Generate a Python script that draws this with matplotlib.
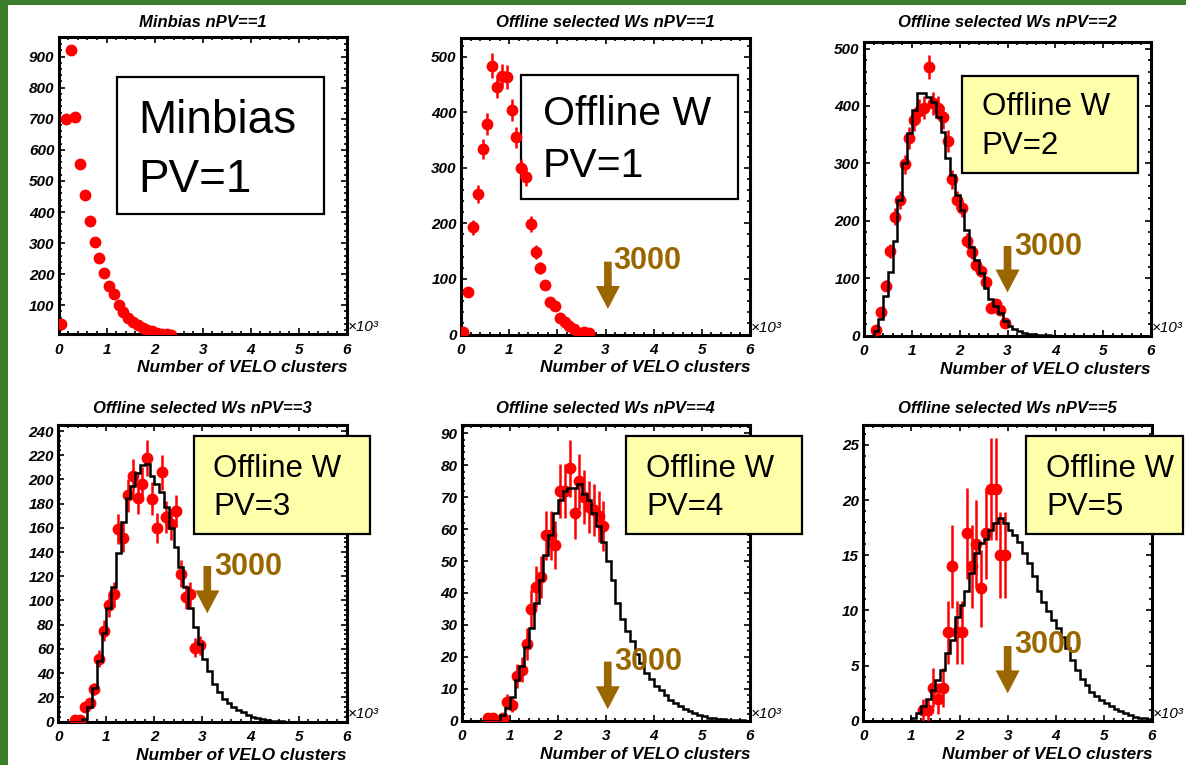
import numpy as np
import matplotlib
matplotlib.use('Agg')
import matplotlib.pyplot as plt
from matplotlib.patches import Rectangle
from matplotlib.ticker import MultipleLocator

plt.rcParams['font.family'] = ['Liberation Sans', 'DejaVu Sans']
plt.rcParams['font.weight'] = 'bold'
plt.rcParams['font.style'] = 'italic'

W, H = 1186, 765

# histogram bin edges, VELO clusters in units of 10^3
edges = np.round(np.arange(0, 6.01, 0.1), 2)

titles = ['Minbias nPV==1', 'Offline selected Ws nPV==1', 'Offline selected Ws nPV==2',
          'Offline selected Ws nPV==3', 'Offline selected Ws nPV==4', 'Offline selected Ws nPV==5']
box_lines = [['Minbias', 'PV=1'], ['Offline W', 'PV=1'], ['Offline W', 'PV=2'],
             ['Offline W', 'PV=3'], ['Offline W', 'PV=4'], ['Offline W', 'PV=5']]
cut_label = '3000'

# data points (red)
minbias_x = [0.05, 0.15, 0.25, 0.35, 0.45, 0.55, 0.65, 0.75, 0.85, 0.95, 1.05, 1.15,
             1.25, 1.35, 1.45, 1.55, 1.65, 1.75, 1.85, 1.95, 2.05, 2.15, 2.25, 2.35]
minbias_y = [40, 700, 920, 705, 555, 455, 372, 305, 253, 205, 163, 135,
             100, 78, 58, 45, 35, 27, 21, 16, 12, 9, 6, 4]

pv1_x = [0.05, 0.15, 0.25, 0.35, 0.45, 0.55, 0.65, 0.75, 0.85, 0.95, 1.05, 1.15, 1.25, 1.35,
         1.45, 1.55, 1.65, 1.75, 1.85, 1.95, 2.05, 2.15, 2.25, 2.35, 2.45, 2.55, 2.65]
pv1_y = [5, 77, 193, 253, 334, 379, 484, 446, 465, 463, 404, 355, 299, 284,
         199, 148, 119, 89, 59, 51, 30, 22, 15, 9, 3, 5, 3]

pv2_x = [0.25, 0.35, 0.45, 0.55, 0.65, 0.75, 0.85, 0.95, 1.05, 1.15, 1.25, 1.35, 1.45, 1.55,
         1.65, 1.75, 1.85, 1.95, 2.05, 2.15, 2.25, 2.35, 2.45, 2.55, 2.65, 2.75, 2.85, 2.95]
pv2_y = [10, 41, 87, 147, 207, 236, 298, 344, 375, 392, 397, 468, 405, 397,
         380, 339, 272, 236, 222, 165, 145, 123, 113, 94, 48, 55, 45, 21]

pv3_x = [0.35, 0.45, 0.55, 0.65, 0.75, 0.85, 0.95, 1.05, 1.15, 1.25, 1.35, 1.45, 1.55, 1.65,
         1.75, 1.85, 1.95, 2.05, 2.15, 2.25, 2.35, 2.45, 2.55, 2.65, 2.75, 2.85, 2.95]
pv3_y = [1, 1, 12, 15, 27, 52, 75, 96, 105, 159, 152, 187, 203, 185,
         196, 218, 184, 160, 206, 169, 163, 174, 122, 103, 105, 61, 63]

pv4_x = [0.55, 0.65, 0.85, 0.95, 1.05, 1.15, 1.25, 1.35, 1.45, 1.55, 1.65, 1.75,
         1.85, 1.95, 2.05, 2.15, 2.25, 2.35, 2.45, 2.55, 2.65, 2.75, 2.85, 2.95]
pv4_y = [1, 1, 1, 6, 5, 14, 16, 24, 35, 42, 45, 58,
         58, 55, 72, 72, 79, 65, 75, 70, 67, 66, 64, 61]

pv5_x = [1.25, 1.35, 1.45, 1.55, 1.65, 1.75, 1.85, 1.95, 2.05, 2.15, 2.25, 2.35,
         2.45, 2.55, 2.65, 2.75, 2.85, 2.95]
pv5_y = [1, 1, 3, 2, 3, 8, 14, 8, 8, 17, 14, 16,
         12, 17, 21, 21, 15, 15]

# expectation histograms (black), one value per 0.1 bin from 0 to 6
pv2_hist = [0, 0, 7, 28, 68, 110, 165, 236, 300, 353,
            393, 423, 423, 416, 407, 381, 355, 310, 280, 245,
            219, 184, 155, 132, 109, 82, 63, 51, 40, 25,
            16, 11, 7, 5, 3, 2, 1.5, 1, 0.5, 0,
            0, 0, 0, 0, 0, 0, 0, 0, 0, 0,
            0, 0, 0, 0, 0, 0, 0, 0, 0, 0]
pv3_hist = [0, 0, 0, 0, 0, 2, 12, 28, 50, 73,
            94, 111, 139, 165, 185, 195, 205, 212, 213, 203,
            196, 190, 177, 160, 144, 128, 111, 94, 78, 64,
            52, 42, 31, 24, 19, 15, 12, 9.5, 7.5, 5.5,
            4, 3, 2, 1.3, 0.8, 0.5, 0.3, 0, 0, 0,
            0, 0, 0, 0, 0, 0, 0, 0, 0, 0]
pv4_hist = [0, 0, 0, 0, 0, 0, 0, 0, 1.8, 3.9,
            7.5, 12.7, 17, 23, 29, 37, 44, 52, 58, 65,
            69, 72, 73, 73, 74, 71, 69, 65, 61, 56,
            50, 44, 37, 32, 28, 25, 21, 18, 15, 13,
            11, 9.5, 8, 6.5, 5.5, 4.5, 3.7, 3, 2.4, 1.8,
            1.4, 1, 0.8, 0.6, 0.4, 0.3, 0.2, 0.1, 0.1, 0]
pv5_hist = [0, 0, 0, 0, 0, 0, 0, 0, 0, 0,
            0.2, 0.7, 1.3, 2, 2.8, 3.7, 4.6, 6.1, 7.3, 9.4,
            10.5, 11.8, 13.4, 15.2, 16.1, 16.5, 17.3, 17.9, 18.4, 17.9,
            17.3, 16.8, 16.2, 15.2, 14.3, 13.1, 11.8, 10.8, 9.9, 9.1,
            8.4, 7.6, 6.6, 5.5, 4.6, 3.8, 3.2, 2.6, 2.2, 1.9,
            1.6, 1.3, 1.1, 0.9, 0.7, 0.55, 0.36, 0.25, 0.2, 0.15]

points_x = [minbias_x, pv1_x, pv2_x, pv3_x, pv4_x, pv5_x]
points_y = [minbias_y, pv1_y, pv2_y, pv3_y, pv4_y, pv5_y]
hists = [None, None, pv2_hist, pv3_hist, pv4_hist, pv5_hist]

# layout: frame in pixels (x0, ytop, x1, ybottom), y range, y tick step, title pad
frames = [(58.5, 37.3, 347, 334.3), (461, 38.3, 750, 334.5), (864, 41.7, 1151, 335.5),
          (58.3, 425, 346.7, 721.5), (461.7, 425, 750, 720.7), (863.3, 425, 1152, 720.7)]
ylims = [(6.6, 962), (0, 533), (0, 512), (0, 245), (0, 92.6), (0, 26.8)]
ysteps = [100, 100, 100, 20, 10, 5]
title_pads = [7.6, 8.4, 10.8, 8.6, 8.6, 8.6]

# label boxes in pixels (x0, ytop, x1, ybottom), text left, baselines, font size
boxes = [(117.3, 77.3, 324.3, 214), (521, 75, 738.3, 199), (961.7, 76, 1138.3, 173.3),
         (194, 436, 370, 534), (626, 436, 802, 534), (1026, 436, 1183, 534)]
box_fill = ['white', 'white', '#ffffaa', '#ffffaa', '#ffffaa', '#ffffaa']
box_text_x = [138, 542.7, 981.7, 213.3, 646, 1046]
box_baselines = [(133, 192), (125, 176.7), (115, 154), (476.7, 515), (476.7, 515), (476.7, 515)]
box_fontsize = [33, 29.5, 22.5, 22.5, 22.5, 22.5]

# cut arrows: x, tail top, tip, label x, label baseline (data units)
arrows = [None, (3.05, 131, 46, 3.16, 118.6), (3.0, 156, 75, 3.14, 141),
          (3.10, 128.5, 89.4, 3.24, 121), (3.04, 18.5, 3.6, 3.17, 15.9),
          (3.0, 6.77, 2.48, 3.13, 6.14)]

brown = '#996600'
green = '#3b7d2a'


def fx(x):
    return x / W


def fy(y):
    return 1 - y / H


fig = plt.figure(figsize=(W / 100, H / 100), dpi=100)
fig.patch.set_facecolor('white')
fig.add_artist(Rectangle((0, 0), fx(7.5), 1, transform=fig.transFigure, fc=green, ec='none', zorder=0))
fig.add_artist(Rectangle((0, fy(5)), 1, 5 / H, transform=fig.transFigure, fc=green, ec='none', zorder=0))

for i in range(6):
    x0, y0, x1, y1 = frames[i]
    ax = fig.add_axes([fx(x0), fy(y1), (x1 - x0) / W, (y1 - y0) / H])
    px = np.array(points_x[i])
    py = np.array(points_y[i], dtype=float)
    if i == 0:
        ax.plot(px, py, 'o', color='red', ms=7.5, mec='red', zorder=3)
    else:
        ax.errorbar(px, py, yerr=np.sqrt(py), fmt='o', color='red', ms=7.5,
                    elinewidth=1.8, capsize=0, zorder=3)
    if hists[i] is not None:
        ax.stairs(hists[i], edges, color='black', lw=1.8, baseline=0, zorder=4)

    ax.set_xlim(0, 6)
    ax.set_ylim(*ylims[i])
    ax.xaxis.set_major_locator(MultipleLocator(1))
    ax.xaxis.set_minor_locator(MultipleLocator(0.2))
    ax.yaxis.set_major_locator(MultipleLocator(ysteps[i]))
    ax.yaxis.set_minor_locator(MultipleLocator(ysteps[i] / 5))
    ax.tick_params(which='both', direction='in', top=True, right=True, width=1.2, labelsize=11)
    ax.tick_params(which='major', length=4.5)
    ax.tick_params(which='minor', length=2.2)
    ax.tick_params(axis='x', pad=6)
    ax.tick_params(axis='y', pad=3)
    for s in ax.spines.values():
        s.set_linewidth(2.2)

    ax.set_title(titles[i], fontsize=12, fontweight='bold', pad=title_pads[i])
    ax.annotate('Number of VELO clusters', xy=(1, 0), xycoords='axes fraction',
                xytext=(0, -38), textcoords='offset pixels', ha='right', va='baseline',
                fontsize=12.5, annotation_clip=False)
    ax.annotate('×10³', xy=(1, 0), xycoords='axes fraction', xytext=(1, 0),
                textcoords='offset pixels', ha='left', va='bottom', fontsize=11,
                fontweight='normal', annotation_clip=False)

    if arrows[i] is not None:
        ax_x, top, tip, tx, ty = arrows[i]
        ax.annotate('', xy=(ax_x, tip), xytext=(ax_x, top),
                    arrowprops=dict(arrowstyle='simple,head_length=1.65,head_width=1.73,tail_width=0.55',
                                    fc=brown, ec='none', mutation_scale=10, shrinkA=0, shrinkB=0),
                    annotation_clip=False, zorder=6)
        ax.text(tx, ty, cut_label, fontsize=22, fontweight='bold', style='normal',
                color=brown, ha='left', va='baseline', zorder=6)

    bx0, by0, bx1, by1 = boxes[i]
    inside = bx0 >= x0 and bx1 <= x1 and by0 >= y0 and by1 <= y1
    if inside:
        # box sits inside the frame: keep it under the data points
        rect = Rectangle((fx(bx0), fy(by1)), (bx1 - bx0) / W, (by1 - by0) / H,
                         transform=fig.transFigure, fc=box_fill[i], ec='black', lw=1.6, zorder=2)
        ax.add_artist(rect)
    else:
        fig.add_artist(Rectangle((fx(bx0), fy(by1)), (bx1 - bx0) / W, (by1 - by0) / H,
                                 transform=fig.transFigure, fc=box_fill[i], ec='black', lw=1.6, zorder=5))
    for line, base in zip(box_lines[i], box_baselines[i]):
        fig.text(fx(box_text_x[i]), fy(base), line, fontsize=box_fontsize[i],
                 fontweight='normal', style='normal', ha='left', va='baseline', zorder=6)

fig.savefig('out.png', dpi=100, facecolor='white')
